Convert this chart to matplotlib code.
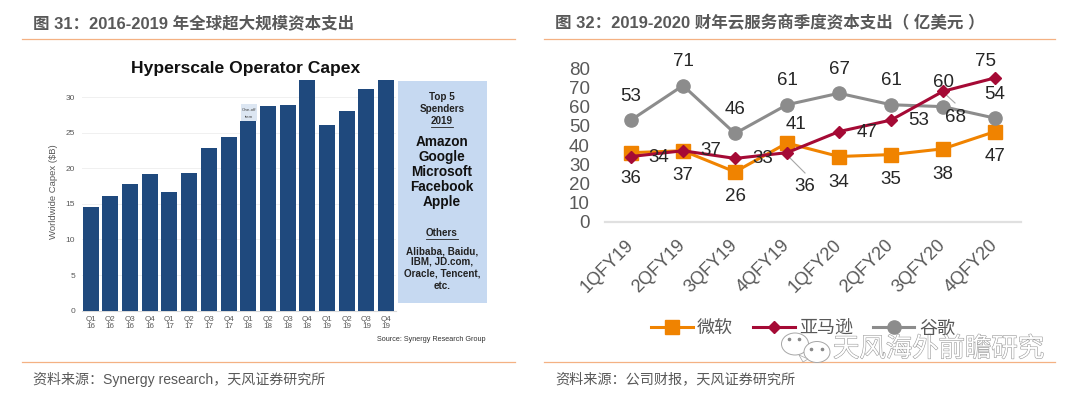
import matplotlib
matplotlib.use('Agg')
import matplotlib.pyplot as plt
import matplotlib.patheffects as pe
from matplotlib.patches import Ellipse, Rectangle, Polygon
from matplotlib.lines import Line2D
from matplotlib.transforms import ScaledTranslation

plt.rcParams['font.family'] = ['Liberation Sans', 'Noto Sans CJK SC', 'DejaVu Sans']

W, H = 1080, 395

# left chart
quarters = ['Q1\n16', 'Q2\n16', 'Q3\n16', 'Q4\n16', 'Q1\n17', 'Q2\n17', 'Q3\n17', 'Q4\n17',
            'Q1\n18', 'Q2\n18', 'Q3\n18', 'Q4\n18', 'Q1\n19', 'Q2\n19', 'Q3\n19', 'Q4\n19']
capex = [14.5, 16.1, 17.8, 19.2, 16.7, 19.3, 22.8, 24.4,
         26.6, 28.7, 28.9, 32.4, 26.1, 28.1, 31.2, 32.4]
capex_ticks = [0, 5, 10, 15, 20, 25, 30]

# right chart
fiscal = ['1QFY19', '2QFY19', '3QFY19', '4QFY19', '1QFY20', '2QFY20', '3QFY20', '4QFY20']
microsoft = [36, 37, 26, 41, 34, 35, 38, 47]
amazon = [34, 37, 33, 36, 47, 53, 68, 75]
google = [53, 71, 46, 61, 67, 61, 60, 54]
spend_ticks = [0, 10, 20, 30, 40, 50, 60, 70, 80]

ORANGE = '#F08300'
RED = '#A50A35'
GRAY = '#8C8C8C'
TXT = '#595959'
RULE = '#F4B183'


def px_axes(fig, x0, y0, x1, y1):
    # axes from pixel box, y measured from the top
    return fig.add_axes([x0 / W, 1 - y1 / H, (x1 - x0) / W, (y1 - y0) / H])


fig = plt.figure(figsize=(W / 100, H / 100), dpi=100)

# overlay in pixel coordinates for rules, headings, panel
bg = fig.add_axes([0, 0, 1, 1])
bg.set_xlim(0, W)
bg.set_ylim(H, 0)
bg.axis('off')

for x0, x1 in [(22, 515), (544, 1055)]:
    bg.plot([x0, x1], [39, 39], color=RULE, lw=0.9)
    bg.plot([x0, x1], [362, 362], color=RULE, lw=0.9)

bg.text(33, 23, '图 31：2016-2019 年全球超大规模资本支出', fontsize=11.9, fontweight='bold',
        color=TXT, va='center')
bg.text(555, 23, '图 32：2019-2020 财年云服务商季度资本支出（ 亿美元 ）', fontsize=11.9, fontweight='bold',
        color=TXT, va='center')
bg.text(33, 379, '资料来源：Synergy research，天风证券研究所', fontsize=10.1, color=TXT, va='center')
bg.text(555, 379, '资料来源：公司财报，天风证券研究所', fontsize=10.2, color=TXT, va='center')

# left chart
ax = px_axes(fig, 82, 80, 396, 310.7)
ax.patch.set_alpha(0)
ax.bar(range(len(capex)), capex, width=0.81, color='#1F497D', zorder=3)
ax.set_xlim(-0.44, 15.5)
ax.set_ylim(0, 32.4)
ax.set_yticks(capex_ticks)
ax.set_xticks(range(len(quarters)))
ax.set_xticklabels(quarters, fontsize=5.8, color=TXT, linespacing=1.1)
ax.tick_params(axis='y', labelsize=6, labelcolor=TXT, length=0, pad=5)
ax.tick_params(axis='x', length=0, pad=3.5)
ax.grid(axis='y', color='#F0F0F0', lw=0.7, zorder=0)
for s in ['top', 'right', 'left']:
    ax.spines[s].set_visible(False)
ax.spines['bottom'].set_color('#D9D9D9')
ax.set_axisbelow(True)

bg.text(54, 192, 'Worldwide Capex ($B)', rotation=90, fontsize=6.8, color=TXT,
        ha='center', va='center')
bg.text(246, 68, 'Hyperscale Operator Capex', fontsize=12.6, fontweight='bold',
        color='#111111', ha='center', va='center')
bg.text(431.5, 339.5, 'Source: Synergy Research Group', fontsize=5.2, color='#333333',
        ha='center', va='center')

bg.add_patch(Rectangle((240.5, 104), 16, 17, color='#DCE6F2', lw=0, zorder=4))
bg.text(248.5, 110, 'One-off', fontsize=3.2, color='#444444', ha='center', va='center', zorder=5)
bg.text(248.5, 117, 'item', fontsize=3.2, color='#444444', ha='center', va='center', zorder=5)

bg.add_patch(Rectangle((398, 81), 88.5, 221.7, color='#C6D9F1', lw=0))
for txt, y in [('Top 5', 97), ('Spenders', 109), ('2019', 121), ('Others', 233),
               ('Alibaba, Baidu,', 251), ('IBM, JD.com,', 262),
               ('Oracle, Tencent,', 274), ('etc.', 286)]:
    bg.text(442, y, txt, fontsize=7.1, fontweight='bold', color='#222222', ha='center', va='center')
for txt, y in [('Amazon', 142), ('Google', 157), ('Microsoft', 172), ('Facebook', 187), ('Apple', 202)]:
    bg.text(442, y, txt, fontsize=9.8, fontweight='bold', color='#111111', ha='center', va='center')
bg.plot([431, 453], [127, 127], color='#222222', lw=0.6)
bg.plot([426, 458], [238.5, 238.5], color='#222222', lw=0.6)

# right chart
ax2 = px_axes(fig, 605, 68.3, 1021, 221.7)
ax2.patch.set_alpha(0)
xs = range(len(fiscal))
ax2.plot(xs, microsoft, color=ORANGE, lw=2.2, marker='s', ms=9.5, label='微软', clip_on=False, zorder=3)
ax2.plot(xs, google, color=GRAY, lw=2.2, marker='o', ms=9.5, label='谷歌', clip_on=False, zorder=3)
ax2.plot(xs, amazon, color=RED, lw=2.2, marker='D', ms=6.5, label='亚马逊', clip_on=False, zorder=4)
ax2.set_xlim(-0.5, 7.5)
ax2.set_ylim(0, 80)
ax2.set_yticks(spend_ticks)
ax2.set_xticks(list(xs))
ax2.set_xticklabels(fiscal, rotation=45, ha='right', rotation_mode='anchor', fontsize=13, color=TXT)
ax2.tick_params(axis='y', labelsize=13.5, labelcolor=TXT, length=0, pad=11)
ax2.tick_params(axis='x', length=0, pad=7)
shift = ScaledTranslation(-6 / 100, -5 / 100, fig.dpi_scale_trans)
for lab in ax2.get_xticklabels():
    lab.set_transform(lab.get_transform() + shift)
for s in ['top', 'right', 'left']:
    ax2.spines[s].set_visible(False)
ax2.spines['bottom'].set_color('#E0E0E0')
ax2.spines['bottom'].set_linewidth(1.6)

# label offsets in pixels, (dx, dy) from each point
ms_off = [(0, -26), (0, -25), (0, -25), (9, 19), (0, -26), (0, -25), (0, -26), (0, -25)]
am_off = [(28, -1), (28, 0), (28, 0), (18, -34), (28, -1), (28, 0), (13, -26), (-9, 16)]
go_off = [(0, 24), (0, 24), (0, 24), (0, 24), (0, 24), (0, 24), (0, 24), (0, 24)]
for vals, offs in [(microsoft, ms_off), (amazon, am_off), (google, go_off)]:
    for i, v in enumerate(vals):
        ax2.annotate(str(v), (i, v), xytext=offs[i], textcoords='offset pixels', fontsize=13.5,
                     color='#262626', ha='center', va='center', zorder=6)

# leader lines
bg.plot([787, 805], [155, 173], color='#A6A6A6', lw=0.8, zorder=1)
bg.plot([943, 955], [92, 103], color='#A6A6A6', lw=0.8, zorder=1)

h, l = ax2.get_legend_handles_labels()
order = [0, 2, 1]
fig.legend([h[i] for i in order], [l[i] for i in order], ncol=3, frameon=False, fontsize=13,
           labelcolor=TXT, handlelength=2.3, handletextpad=0.25, columnspacing=1.1,
           loc='center', bbox_to_anchor=(803 / W, 1 - 329 / H), borderpad=0)

# watermark
top = fig.add_axes([0, 0, 1, 1])
top.set_xlim(0, W)
top.set_ylim(H, 0)
top.axis('off')
top.patch.set_alpha(0)
top.text(833, 349, '天风海外前瞻研究', fontsize=19, color='white', va='center',
         path_effects=[pe.withStroke(linewidth=0.8, foreground='#9A9A9A')])
for cx, cy, w, h_ in [(795, 344, 27, 22), (817, 352, 26, 21)]:
    top.add_patch(Ellipse((cx, cy), w, h_, fc='white', ec='#A6A6A6', lw=0.7))
top.add_patch(Polygon([[799, 355], [803, 362], [808, 359]], fc='white', ec='#A6A6A6', lw=0.5))
for cx, cy in [(789, 339), (799, 339), (811, 349), (822, 349)]:
    top.add_line(Line2D([cx], [cy], marker='o', ms=1.6, color='#8A8A8A', lw=0))

fig.savefig('out.png', dpi=100)
